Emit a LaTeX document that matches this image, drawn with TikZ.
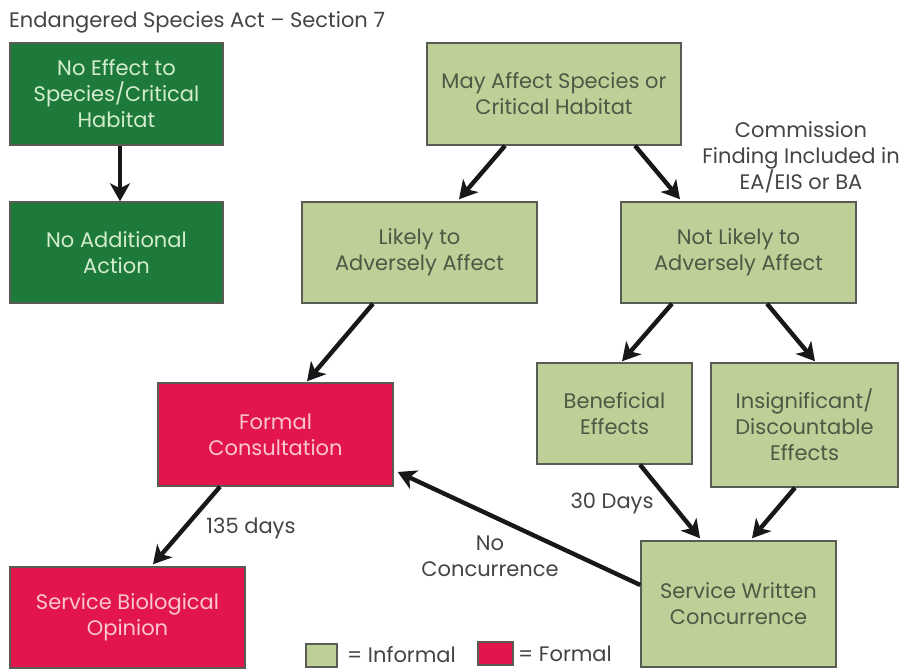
\documentclass[tikz,border=0pt]{standalone}
\usepackage{fontspec}
\setmainfont{Poppins}
\usetikzlibrary{arrows.meta}
\definecolor{dkgreen}{RGB}{30,122,58}
\definecolor{ltgreen}{RGB}{190,207,151}
\definecolor{crimson}{RGB}{226,22,76}
\definecolor{edgec}{RGB}{88,92,82}
\definecolor{txtgrey}{RGB}{68,68,68}
\definecolor{boxtxt}{RGB}{78,88,68}
\definecolor{lighttxt}{RGB}{212,236,208}
\definecolor{pinktxt}{RGB}{250,198,210}
\definecolor{arrowc}{RGB}{24,24,24}
\begin{document}
\begin{tikzpicture}[x=1pt,y=-1pt,
  box/.style={draw=edgec, line width=1.4pt, inner sep=0pt, align=center,
    font=\fontsize{21}{26}\selectfont},
  darkbox/.style={box, fill=dkgreen, text=lighttxt},
  lightbox/.style={box, fill=ltgreen, text=boxtxt},
  redbox/.style={box, fill=crimson, text=pinktxt},
  lbl/.style={text=txtgrey, align=center, inner sep=0pt, font=\fontsize{21}{26}\selectfont},
  arr/.style={draw=arrowc, line width=4.4pt,
    -{Stealth[length=18pt,width=20pt,inset=5pt]}}]
\useasboundingbox (0,0) rectangle (903,669);
\fill[white] (0,0) rectangle (903,669);

\node[lbl, anchor=west] (title) at (9,22) {Endangered Species Act -- Section 7};

\node[darkbox, minimum width=213pt, minimum height=102pt] (noeff) at (116.5,94)
  {No Effect to\\Species/Critical\\Habitat};
\node[darkbox, minimum width=213pt, minimum height=101pt] (noadd) at (116.5,252.5)
  {No Additional\\Action};
\node[lightbox, minimum width=254pt, minimum height=102pt] (may) at (554,94)
  {May Affect Species or\\Critical Habitat};
\node[lightbox, minimum width=235pt, minimum height=101pt] (likely) at (419.5,252.5)
  {Likely to\\Adversely Affect};
\node[lightbox, minimum width=235pt, minimum height=101pt] (notlikely) at (738.5,252.5)
  {Not Likely to\\Adversely Affect};
\node[redbox, minimum width=235pt, minimum height=103pt] (formal) at (275.5,434.5)
  {Formal\\Consultation};
\node[redbox, minimum width=235pt, minimum height=101pt] (sbo) at (127.5,617.5)
  {Service Biological\\Opinion};
\node[lightbox, minimum width=155pt, minimum height=101pt] (benef) at (614.5,413.5)
  {Beneficial\\Effects};
\node[lightbox, minimum width=187pt, minimum height=124pt] (insig) at (804.5,425)
  {Insignificant/\\Discountable\\Effects};
\node[lightbox, minimum width=195pt, minimum height=126pt] (swc) at (738.5,604)
  {Service Written\\Concurrence};

\node[lbl] (commission) at (801,157) {Commission\\Finding Included in\\EA/EIS or BA};
\node[lbl] (days135) at (251,528) {135 days};
\node[lbl] (days30) at (612,503) {30 Days};
\node[lbl] (nocon) at (490,556) {No\\Concurrence};

\draw[arr] ([xshift=3.5pt]noeff.south) -- ([xshift=3.5pt]noadd.north);
\draw[arr] ([xshift=-49pt]may.south) -- ([xshift=39.5pt,yshift=2pt]likely.north);
\draw[arr] ([xshift=81pt]may.south) -- ([xshift=-58.5pt,yshift=2pt]notlikely.north);
\draw[arr] ([xshift=-46.5pt]likely.south) -- ([xshift=31.5pt,yshift=1pt]formal.north);
\draw[arr] ([xshift=-55.5pt]formal.south) -- ([xshift=25.5pt,yshift=2pt]sbo.north);
\draw[arr] ([xshift=-66.5pt]notlikely.south) -- ([xshift=7.5pt,yshift=1pt]benef.north);
\draw[arr] ([xshift=28.5pt]notlikely.south) -- ([xshift=10.5pt,yshift=1pt]insig.north);
\draw[arr] ([xshift=25.5pt]benef.south) -- ([xshift=-38.5pt,yshift=2pt]swc.north);
\draw[arr] ([xshift=-9.5pt]insig.south) -- ([xshift=13.5pt,yshift=2pt]swc.north);
\draw[arr] ([yshift=19pt]swc.west) -- ([xshift=4pt,yshift=-37.5pt]formal.east);

\node[draw=edgec, line width=1.2pt, fill=ltgreen, minimum width=31pt, minimum height=23pt, inner sep=0pt] (legInf) at (321.5,655.5) {};
\node[lbl, anchor=west] (legInfT) at (347,655) {= Informal};
\node[draw=edgec, line width=1.2pt, fill=crimson, minimum width=35pt, minimum height=23pt, inner sep=0pt] (legFor) at (495.5,653.5) {};
\node[lbl, anchor=west] (legForT) at (518,654) {= Formal};
\end{tikzpicture}
\end{document}
